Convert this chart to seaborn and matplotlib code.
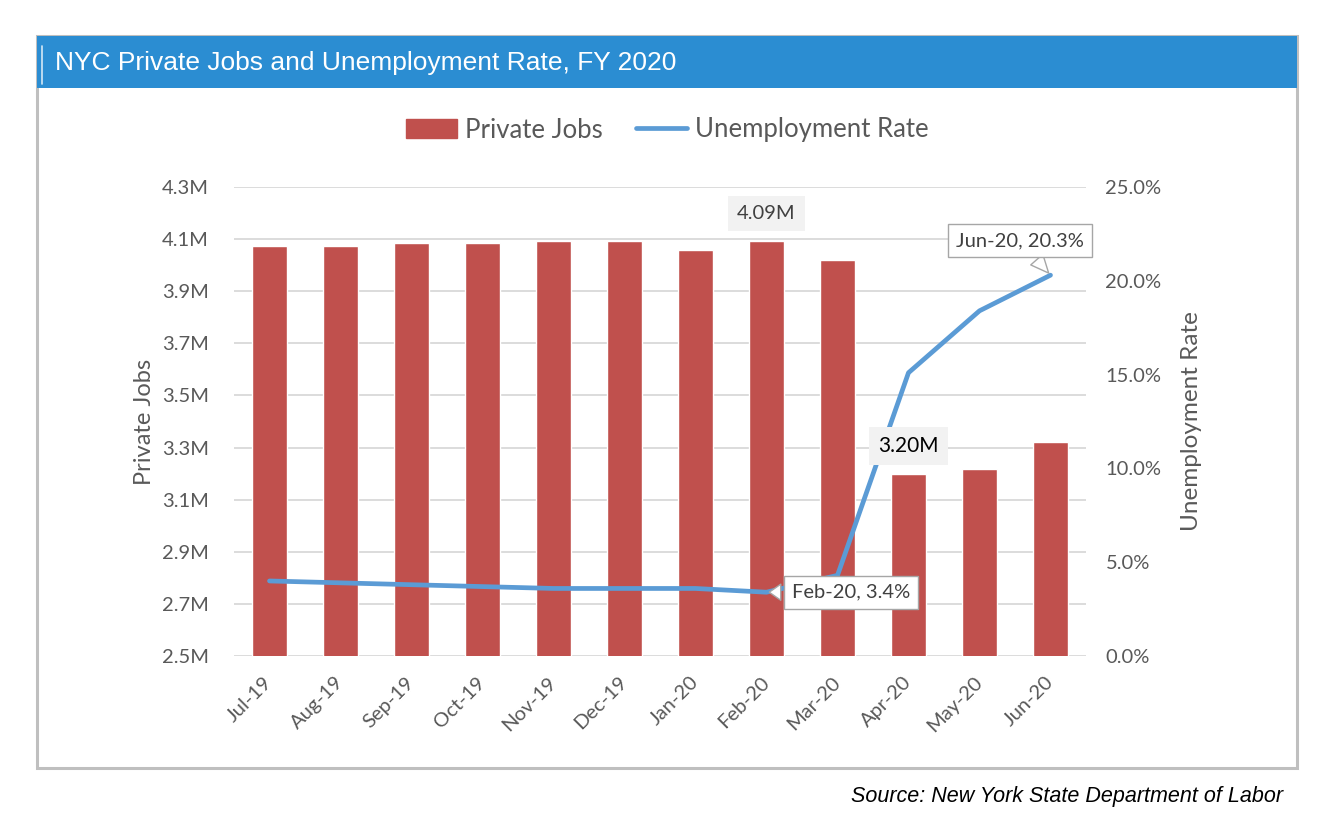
import matplotlib
matplotlib.use("Agg")
import matplotlib.pyplot as plt
import matplotlib.patches as mpatches
from matplotlib.lines import Line2D
from matplotlib.ticker import FuncFormatter
import numpy as np
import seaborn as sns

# data
months = ["Jul-19", "Aug-19", "Sep-19", "Oct-19", "Nov-19", "Dec-19",
          "Jan-20", "Feb-20", "Mar-20", "Apr-20", "May-20", "Jun-20"]
private_jobs = [4.075, 4.075, 4.084, 4.084, 4.092, 4.092,
                4.059, 4.092, 4.018, 3.199, 3.216, 3.323]   # millions
unemp_rate = [4.0, 3.9, 3.8, 3.7, 3.6, 3.6, 3.6, 3.4, 4.3, 15.1, 18.4, 20.3]  # percent
jobs_ticks = [2.5, 2.7, 2.9, 3.1, 3.3, 3.5, 3.7, 3.9, 4.1, 4.3]
rate_ticks = [0, 5, 10, 15, 20, 25]

BAR_RED = "#C0504D"
LINE_BLUE = "#5B9BD5"
TITLE_BLUE = "#2B8DD2"
GRAY_TXT = "#595959"

sns.set_style("white")
plt.rcParams["font.family"] = ["Lato", "DejaVu Sans"]

W, H = 1320, 830
fig = plt.figure(figsize=(W / 100, H / 100), dpi=100)

# outer frame and title bar
fig.patches.append(mpatches.Rectangle((37 / W, 1 - 768 / H), 1260 / W, 732 / H,
                                      transform=fig.transFigure, fill=False,
                                      ec="#BFBFBF", lw=2.2, zorder=0))
fig.patches.append(mpatches.Rectangle((37 / W, 1 - 88 / H), 1260 / W, 52 / H,
                                      transform=fig.transFigure, fc=TITLE_BLUE,
                                      ec="none", zorder=1))
fig.add_artist(Line2D([42 / W, 42 / W], [1 - 84 / H, 1 - 46 / H],
                      transform=fig.transFigure, color="white", lw=1.2, alpha=0.8))
fig.text(55 / W, 1 - 63 / H, "NYC Private Jobs and Unemployment Rate, FY 2020",
         color="white", fontsize=19, family=["Liberation Sans", "DejaVu Sans"],
         va="center", ha="left")

ax = fig.add_axes([234 / W, 1 - 656 / H, 852 / W, 469 / H])
x = np.arange(len(months))

sns.barplot(x=months, y=private_jobs, color=BAR_RED, saturation=1,
            width=0.48, ax=ax)
ax.set_ylim(2.5, 4.3)
ax.set_xlim(-0.5, len(months) - 0.5)
ax.set_yticks(jobs_ticks)
ax.yaxis.set_major_formatter(FuncFormatter(lambda v, p: f"{v:.1f}M"))
ax.yaxis.grid(True, color="#D9D9D9", lw=1.3)
ax.set_axisbelow(True)
ax.tick_params(axis="y", length=0, pad=18, labelsize=14.5, labelcolor=GRAY_TXT)
ax.tick_params(axis="x", length=0, pad=17, labelsize=14.5, labelcolor=GRAY_TXT)
for lbl in ax.get_xticklabels():
    lbl.set_rotation(45)
    lbl.set_ha("right")
    lbl.set_va("center")
    lbl.set_rotation_mode("anchor")
ax.set_xlabel("")
ax.set_ylabel("Private Jobs", fontsize=17, color=GRAY_TXT, labelpad=5)
sns.despine(ax=ax, left=True, bottom=True)

ax2 = ax.twinx()
sns.lineplot(x=x, y=unemp_rate, color=LINE_BLUE, lw=3.4, ax=ax2)
ax2.set_ylim(0, 25)
ax2.set_yticks(rate_ticks)
ax2.yaxis.set_major_formatter(FuncFormatter(lambda v, p: f"{v:.1f}%"))
ax2.tick_params(axis="y", length=0, pad=14, labelsize=14.5, labelcolor=GRAY_TXT)
ax2.set_ylabel("Unemployment Rate", fontsize=17.5, color=GRAY_TXT, labelpad=14)
ax2.grid(False)
sns.despine(ax=ax2, left=True, right=True, bottom=True)
ax2.set_xlim(-0.5, len(months) - 0.5)

# data labels on the bars (drawn on ax2 so they sit above the line)
gray_box = dict(boxstyle="square,pad=0.45", fc="#F2F2F2", ec="none")
ax2.annotate(f"{private_jobs[7]:.2f}M", xy=(7, private_jobs[7]), xycoords=ax.transData,
             xytext=(0, 20), textcoords="offset points", ha="center", va="center",
             fontsize=14.5, color="#404040", bbox=gray_box)
ax2.annotate(f"{private_jobs[9]:.2f}M", xy=(9, private_jobs[9]), xycoords=ax.transData,
             xytext=(0, 20), textcoords="offset points", ha="center", va="center",
             fontsize=15, color="black", bbox=gray_box)

# callouts on the line
call_box = dict(boxstyle="square,pad=0.4", fc="white", ec="#A6A6A6", lw=1)
call_arrow = dict(arrowstyle="wedge,tail_width=0.8,shrink_factor=0.5",
                  fc="white", ec="#A6A6A6", lw=1)
ax2.annotate(f"{months[7]}, {unemp_rate[7]:.1f}%", xy=(7, unemp_rate[7]),
             xytext=(61, 0), textcoords="offset points", ha="center", va="center",
             fontsize=14.5, color="#404040", bbox=call_box, arrowprops=call_arrow)
ax2.annotate(f"{months[11]}, {unemp_rate[11]:.1f}%", xy=(11, unemp_rate[11]),
             xytext=(-22, 25), textcoords="offset points", ha="center", va="center",
             fontsize=14.5, color="#404040", bbox=call_box, arrowprops=call_arrow)

# legend
handles = [mpatches.Patch(color=BAR_RED, label="Private Jobs"),
           Line2D([0], [0], color=LINE_BLUE, lw=3.4, label="Unemployment Rate")]
fig.legend(handles=handles, loc="center", bbox_to_anchor=(667 / W, 1 - 130 / H),
           ncol=2, frameon=False, fontsize=18.5, handlelength=2.0,
           handleheight=0.75, columnspacing=1.3, handletextpad=0.3,
           labelcolor=GRAY_TXT)

fig.text(1283 / W, 1 - 796 / H, "Source: New York State Department of Labor",
         ha="right", va="center", fontsize=15.5, style="italic", color="black",
         family=["Liberation Sans", "DejaVu Sans"])

fig.savefig("out.png", dpi=100)
